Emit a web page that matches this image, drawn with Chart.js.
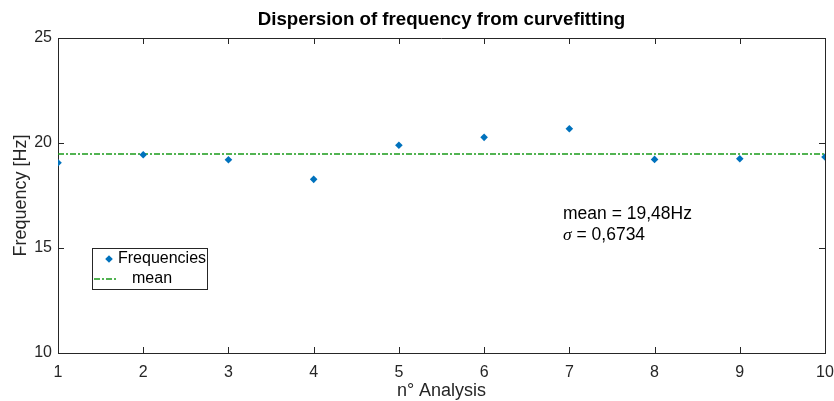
<!DOCTYPE html>
<html>
<head>
<meta charset="utf-8">
<script src="https://cdn.jsdelivr.net/npm/chart.js@4.4.0/dist/chart.umd.min.js"></script>
<style>
    html, body { margin: 0; padding: 0; background: #fff; }
    canvas { display: block; }
</style>
</head>
<body>
<canvas id="graficoDispersion" width="834" height="401"></canvas>
<script>
// Datos
const analisis = [1, 2, 3, 4, 5, 6, 7, 8, 9, 10]
const frecuencias = [19.06, 19.44, 19.20, 18.27, 19.89, 20.27, 20.68, 19.22, 19.25, 19.33]
const media = 19.48
const desviacion = 0.6734
const ticksX = [1, 2, 3, 4, 5, 6, 7, 8, 9, 10]
const ticksY = [10, 15, 20, 25]

const colorEje = '#262626'
const colorPuntos = '#0072BD'
const colorMedia = '#1a9a1a'
const fuente = "'Liberation Sans', Arial, Helvetica, sans-serif"
const patronMedia = [6, 2, 2, 2]

const dibujarDiamante = (ctx, x, y, r) => {
    ctx.beginPath()
    ctx.moveTo(x, y - r)
    ctx.lineTo(x + r, y)
    ctx.lineTo(x, y + r)
    ctx.lineTo(x - r, y)
    ctx.closePath()
    ctx.fill()
}

//Plugin para textos, caja, ticks internos, leyenda y anotacion
const extrasMatlab = {
    id: 'extrasMatlab',
    afterDraw(chart) {
        const ctx = chart.ctx
        const area = chart.chartArea
        const sx = chart.scales.x
        const sy = chart.scales.y
        ctx.save()

        // caja superior y derecha
        ctx.strokeStyle = colorEje
        ctx.lineWidth = 1
        ctx.beginPath()
        ctx.moveTo(area.left, area.top + 0.5)
        ctx.lineTo(area.right + 0.5, area.top + 0.5)
        ctx.lineTo(area.right + 0.5, area.bottom)
        ctx.stroke()

        // ticks hacia adentro
        const largo = 6
        ctx.beginPath()
        ticksX.forEach(v => {
            const px = Math.round(sx.getPixelForValue(v)) + 0.5
            ctx.moveTo(px, area.bottom); ctx.lineTo(px, area.bottom - largo)
            ctx.moveTo(px, area.top); ctx.lineTo(px, area.top + largo)
        })
        ticksY.forEach(v => {
            const py = Math.round(sy.getPixelForValue(v)) + 0.5
            ctx.moveTo(area.left, py); ctx.lineTo(area.left + largo, py)
            ctx.moveTo(area.right, py); ctx.lineTo(area.right - largo, py)
        })
        ctx.stroke()

        // titulo
        ctx.fillStyle = '#000'
        ctx.textAlign = 'center'
        ctx.textBaseline = 'middle'
        ctx.font = 'bold 18.7px ' + fuente
        ctx.fillText('Dispersion of frequency from curvefitting', (area.left + area.right) / 2, 20)

        // titulos de ejes
        ctx.fillStyle = colorEje
        ctx.font = '18px ' + fuente
        ctx.fillText('n° Analysis', (area.left + area.right) / 2, 391)
        ctx.save()
        ctx.translate(21, (area.top + area.bottom) / 2)
        ctx.rotate(-Math.PI / 2)
        ctx.fillText('Frequency [Hz]', 0, 0)
        ctx.restore()

        // leyenda
        ctx.fillStyle = '#fff'
        ctx.fillRect(92, 248, 116, 41)
        ctx.strokeStyle = colorEje
        ctx.strokeRect(92.5, 248.5, 115, 41)
        ctx.fillStyle = colorPuntos
        dibujarDiamante(ctx, 109, 259, 3.8)
        ctx.strokeStyle = colorMedia
        ctx.lineWidth = 1.5
        ctx.setLineDash(patronMedia)
        ctx.beginPath()
        ctx.moveTo(94, 279)
        ctx.lineTo(116, 279)
        ctx.stroke()
        ctx.setLineDash([])
        ctx.fillStyle = '#000'
        ctx.textAlign = 'left'
        ctx.font = '16px ' + fuente
        ctx.fillText('Frequencies', 118, 259)
        ctx.fillText('mean', 132, 279)

        // anotacion
        const textoMedia = 'mean = ' + media.toFixed(2).replace('.', ',') + 'Hz'
        const textoSigma = ' = ' + desviacion.toFixed(4).replace('.', ',')
        ctx.font = '17.5px ' + fuente
        ctx.fillText(textoMedia, 563, 214)
        ctx.font = 'italic 17.5px "Liberation Serif", "Times New Roman", serif'
        ctx.fillText('σ', 563, 235)
        const anchoSigma = ctx.measureText('σ').width
        ctx.font = '17.5px ' + fuente
        ctx.fillText(textoSigma, 563 + anchoSigma, 235)

        ctx.restore()
    }
}

const generarGraficoDispersion = () => {
    let grafico = document.getElementById('graficoDispersion')

    new Chart(grafico, {
        type: 'scatter',
        data: {
            datasets: [{
                label: 'Frequencies',
                data: analisis.map((a, i) => ({ x: a, y: frecuencias[i] })),
                pointStyle: 'rectRot',
                pointRadius: 3.8,
                backgroundColor: colorPuntos,
                borderColor: colorPuntos,
                borderWidth: 0,
                showLine: false
            }, {
                label: 'mean',
                data: [{ x: analisis[0], y: media }, { x: analisis[analisis.length - 1], y: media }],
                showLine: true,
                pointRadius: 0,
                borderColor: colorMedia,
                borderWidth: 1.5,
                borderDash: patronMedia
            }]
        },
        options: {
            responsive: false,
            animation: false,
            layout: { padding: { top: 38, right: 0, left: 0, bottom: 0 } },
            plugins: {
                legend: { display: false },
                title: { display: false },
                tooltip: { enabled: false }
            },
            scales: {
                x: {
                    type: 'linear',
                    min: 1,
                    max: 10,
                    afterFit: s => { s.height = 48; s.paddingRight = 9 },
                    afterBuildTicks: s => { s.ticks = ticksX.map(v => ({ value: v })) },
                    grid: { display: false, drawTicks: false },
                    border: { display: true, color: colorEje, width: 1 },
                    ticks: { color: colorEje, font: { family: fuente, size: 16 }, padding: 10, maxRotation: 0 }
                },
                y: {
                    type: 'linear',
                    min: 10,
                    max: 25,
                    afterFit: s => { s.width = 58 },
                    afterBuildTicks: s => { s.ticks = ticksY.map(v => ({ value: v })) },
                    grid: { display: false, drawTicks: false },
                    border: { display: true, color: colorEje, width: 1 },
                    ticks: { color: colorEje, font: { family: fuente, size: 16 }, padding: 6 }
                }
            }
        },
        plugins: [extrasMatlab]
    })
}

generarGraficoDispersion()
</script>
</body>
</html>
